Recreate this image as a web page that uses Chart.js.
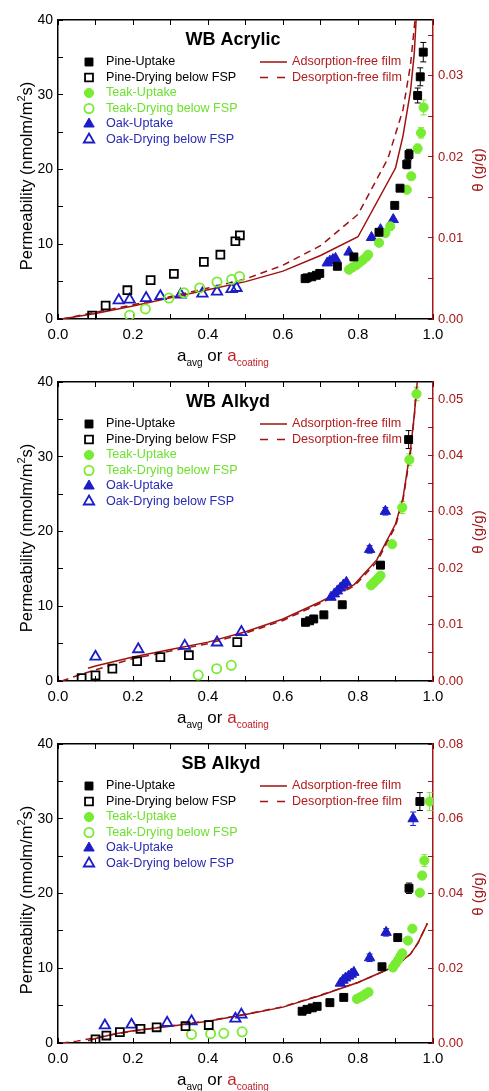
<!DOCTYPE html>
<html>
<head>
<meta charset="utf-8">
<script src="https://cdn.jsdelivr.net/npm/chart.js@4"></script>
<style>
body{margin:0;background:#fff;width:489px;height:1091px;overflow:hidden;font-family:"Liberation Sans",Arial,sans-serif}
.panel{position:absolute;left:0;width:489px}
.panel canvas{position:absolute;left:0;top:0}
.ytl,.y2tl{position:absolute;width:300px;height:20px;line-height:20px;text-align:center;transform:rotate(-90deg);white-space:nowrap}
.ytl{left:-129px;top:166px;color:#000;font-size:16.5px}
.y2tl{left:328px;top:160px;color:#a31818;font-size:15px}
.ytl sup{font-size:11px}
.xtl{position:absolute;left:177px;top:346px;line-height:20px;font-size:17px;white-space:nowrap;color:#000}
.xtl sub{font-size:10px;vertical-align:-5px}
.xtl .r{color:#c0222a}
</style>
</head>
<body>
<div class="panel" style="top:0;height:363px"><canvas id="c1" width="489" height="363"></canvas>
  <div class="ytl">Permeability (nmolm/m<sup>2</sup>s)</div><div class="y2tl">θ (g/g)</div>
  <div class="xtl">a<sub>avg</sub> or <span class="r">a<sub>coating</sub></span></div></div>
<div class="panel" style="top:362px;height:363px"><canvas id="c2" width="489" height="363"></canvas>
  <div class="ytl">Permeability (nmolm/m<sup>2</sup>s)</div><div class="y2tl">θ (g/g)</div>
  <div class="xtl">a<sub>avg</sub> or <span class="r">a<sub>coating</sub></span></div></div>
<div class="panel" style="top:724px;height:367px"><canvas id="c3" width="489" height="367"></canvas>
  <div class="ytl">Permeability (nmolm/m<sup>2</sup>s)</div><div class="y2tl">θ (g/g)</div>
  <div class="xtl">a<sub>avg</sub> or <span class="r">a<sub>coating</sub></span></div></div>
<script>
// [a, permeability, error bar]
// WB Acrylic
const acrPineUp=[[0.659,5.4],[0.664,5.5],[0.677,5.65],[0.689,5.85],[0.698,6.1],[0.745,7.05],[0.789,8.3],[0.856,11.6],[0.898,15.2],[0.912,17.5],[0.930,20.7,0.6],[0.936,22.0,0.7],[0.959,29.9,1.0],[0.966,32.4,1.2],[0.974,35.7,1.3]];
const acrPineDry=[[0.091,0.45],[0.127,1.8],[0.185,3.85],[0.247,5.2],[0.309,6.05],[0.389,7.65],[0.433,8.6],[0.473,10.4],[0.485,11.2]];
const acrTeakUp=[[0.776,6.6],[0.785,6.9],[0.795,7.2],[0.804,7.55],[0.813,7.9],[0.822,8.3],[0.827,8.6],[0.856,10.2],[0.873,11.5],[0.886,12.4],[0.930,17.3],[0.942,19.1],[0.959,22.8,0.6],[0.968,24.9,0.7],[0.975,28.3,1.0]];
const acrTeakDry=[[0.191,0.5],[0.233,1.35],[0.296,2.8],[0.336,3.5],[0.378,4.15],[0.424,4.95],[0.463,5.3],[0.484,5.7]];
const acrOakUp=[[0.718,7.5],[0.725,7.75],[0.733,7.95],[0.740,8.1],[0.776,8.95],[0.836,10.9],[0.860,11.95],[0.894,13.3]];
const acrOakDry=[[0.162,2.5],[0.191,2.6],[0.235,2.8],[0.273,3.05],[0.327,3.25],[0.385,3.4],[0.424,3.65],[0.463,4.0],[0.476,4.15]];
const acrAdsFree=[[0.01,0],[0.1,0.75],[0.2,1.75],[0.3,2.85],[0.4,3.9],[0.5,5.0],[0.6,6.4],[0.7,8.5],[0.8,11.0],[0.9,20.2],[0.92,24.5],[0.94,30.5],[0.95,35.5],[0.955,40]];
const acrDesFree=[[0.01,0],[0.1,0.9],[0.2,1.9],[0.3,3.0],[0.4,4.15],[0.5,5.35],[0.6,7.2],[0.7,9.8],[0.8,14.0],[0.88,21.5],[0.92,28.0],[0.94,34.0],[0.952,40]];
// WB Alkyd
const wbaPineUp=[[0.660,7.85],[0.671,8.05],[0.682,8.3],[0.709,8.85],[0.758,10.2],[0.860,15.5],[0.935,32.3,1.2]];
const wbaPineDry=[[0.063,0.4],[0.1,0.75],[0.145,1.65],[0.211,2.65],[0.273,3.2],[0.349,3.45],[0.478,5.2]];
const wbaTeakUp=[[0.835,12.8],[0.842,13.15],[0.849,13.5],[0.855,13.8],[0.860,14.1],[0.891,18.3],[0.918,23.2,0.8],[0.937,29.6,0.8],[0.956,38.4,0.9]];
const wbaTeakDry=[[0.374,0.8],[0.423,1.65],[0.462,2.1]];
const wbaOakUp=[[0.728,11.2],[0.737,11.65],[0.745,12.05],[0.753,12.45],[0.761,12.85],[0.769,13.2],[0.831,17.6,0.5],[0.873,22.7,0.5]];
const wbaOakDry=[[0.1,3.25],[0.214,4.25],[0.338,4.7],[0.424,5.15],[0.489,6.55]];
const wbaAdsFree=[[0.08,1.7],[0.1,2.0],[0.2,3.2],[0.3,4.2],[0.4,5.2],[0.5,6.6],[0.6,8.3],[0.7,10.6],[0.79,12.9],[0.85,16.2],[0.9,21.0],[0.92,24.5],[0.94,31.0],[0.95,35.5],[0.958,40]];
const wbaDesFree=[[0.01,0],[0.05,0.7],[0.1,1.5],[0.2,3.0],[0.3,4.0],[0.4,5.0],[0.5,6.4],[0.6,8.1],[0.7,10.4],[0.79,12.7],[0.85,15.9],[0.9,20.7],[0.92,24.2],[0.94,30.6],[0.95,35.3],[0.957,40]];
// SB Alkyd
const sbaPineUp=[[0.651,4.25],[0.664,4.5],[0.678,4.7],[0.691,4.9],[0.725,5.4],[0.762,6.1],[0.864,10.2],[0.906,14.1],[0.936,20.7,0.7],[0.965,32.3,1.2]];
const sbaPineDry=[[0.1,0.5],[0.129,1.0],[0.165,1.45],[0.22,1.9],[0.263,2.1],[0.34,2.25],[0.402,2.4]];
const sbaTeakUp=[[0.797,5.9],[0.805,6.1],[0.813,6.3],[0.820,6.55],[0.828,6.8],[0.893,10.1],[0.900,10.6],[0.907,11.1],[0.913,11.6],[0.918,12.0],[0.933,13.7],[0.945,15.3],[0.965,20.1],[0.971,22.4],[0.977,24.4,0.8],[0.991,32.3,1.2]];
const sbaTeakDry=[[0.356,1.15],[0.407,1.25],[0.442,1.3],[0.491,1.5]];
const sbaOakUp=[[0.753,8.0],[0.760,8.4],[0.767,8.7],[0.775,8.95],[0.782,9.2],[0.789,9.45],[0.831,11.4,0.5],[0.875,14.8,0.5],[0.947,30.0,0.9]];
const sbaOakDry=[[0.125,2.35],[0.196,2.45],[0.291,2.7],[0.356,2.9],[0.473,3.25],[0.489,3.8]];
const sbaAdsFree=[[0.08,0.3],[0.1,0.6],[0.15,1.2],[0.2,1.65],[0.3,2.25],[0.4,2.9],[0.5,3.8],[0.6,4.8],[0.7,6.35],[0.8,8.1],[0.9,10.3],[0.94,11.9],[0.96,13.4],[0.985,16.0]];
const sbaDesFree=[[0.01,0],[0.05,0.25],[0.1,0.7],[0.2,1.6],[0.3,2.3],[0.4,2.95],[0.5,3.85],[0.6,4.85],[0.7,6.4],[0.8,8.1],[0.9,10.3],[0.94,11.9],[0.96,13.4],[0.985,16.0]];

const seriesNames=['Pine-Uptake','Pine-Drying below FSP','Teak-Uptake','Teak-Drying below FSP','Oak-Uptake','Oak-Drying below FSP'];
const lineNames=['Adsorption-free film','Desorption-free film'];
const titles=['WB Acrylic','WB Alkyd','SB Alkyd'];
const thetaMax=[0.0369,0.053,0.08];
const thetaStep=[0.01,0.01,0.02];

const GREEN='#78ec32',BLUE='#1c1cc8',RED='#9e1212',AXRED='#a31818';
const FONT='"Liberation Sans", Arial, sans-serif';
Chart.defaults.font.family=FONT;
Chart.defaults.font.size=13;

function pts(a){return a.map(p=>({x:p[0],y:p[1],e:p[2]||0}));}
function scat(i,data,style,color,filled,txt){
  const r=style==='circle'?4.6:(style==='triangle'?6:5.6);
  return {label:seriesNames[i],data:pts(data),xAxisID:'x',yAxisID:'y',pointStyle:style,pointRadius:r,
    pointBorderWidth:filled?1:1.8,borderColor:color,backgroundColor:filled?color:'rgba(255,255,255,0)',
    pointBorderColor:color,pointBackgroundColor:filled?color:'rgba(255,255,255,0)',showLine:false,order:1,txtColor:txt};
}
function modelLine(i,data,dash){
  return {label:lineNames[i],data:pts(data),xAxisID:'x',yAxisID:'y',showLine:true,pointRadius:0,
    borderColor:RED,borderWidth:1.5,borderDash:dash,backgroundColor:RED,order:2,txtColor:'#b21c1c'};
}

// error bars under markers
const errBars={id:'errBars',beforeDatasetsDraw(chart){
  const ctx=chart.ctx,xs=chart.scales.x,ys=chart.scales.y;
  ctx.save();ctx.lineWidth=1;
  chart.data.datasets.forEach(ds=>{
    ds.data.forEach(p=>{
      if(!p.e)return;
      const px=xs.getPixelForValue(p.x),y1=ys.getPixelForValue(p.y+p.e),y2=ys.getPixelForValue(p.y-p.e);
      ctx.strokeStyle=ds.borderColor;ctx.beginPath();
      ctx.moveTo(px,y1);ctx.lineTo(px,y2);
      ctx.moveTo(px-3,y1);ctx.lineTo(px+3,y1);
      ctx.moveTo(px-3,y2);ctx.lineTo(px+3,y2);
      ctx.stroke();
    });
  });
  ctx.restore();
}};

function marker(ctx,ds,x,y){
  const r=ds.pointRadius;
  ctx.beginPath();
  if(ds.pointStyle==='rect'){const s=r*Math.SQRT1_2;ctx.rect(x-s,y-s,2*s,2*s);}
  else if(ds.pointStyle==='circle'){ctx.arc(x,y,r,0,Math.PI*2);}
  else{ctx.moveTo(x,y-r);ctx.lineTo(x+0.866*r,y+0.5*r);ctx.lineTo(x-0.866*r,y+0.5*r);ctx.closePath();}
  ctx.fillStyle=ds.pointBackgroundColor;ctx.fill();
  ctx.lineWidth=ds.pointBorderWidth;ctx.strokeStyle=ds.pointBorderColor;ctx.stroke();
}

// title and two-column legend inside the plot
const inPlot={id:'inPlot',afterDatasetsDraw(chart,args,opts){
  const ctx=chart.ctx,a=chart.chartArea;
  ctx.save();
  ctx.textBaseline='middle';
  ctx.font='bold 18px '+FONT;ctx.fillStyle='#000';ctx.textAlign='center';
  ctx.fillText(opts.title,opts.titleX,a.top+20);
  ctx.font='12.6px '+FONT;ctx.textAlign='left';
  let row=0,rowR=0;
  chart.data.datasets.forEach(ds=>{
    if(ds.showLine){
      const y=a.top+42+rowR*15.5;
      ctx.strokeStyle=ds.borderColor;ctx.lineWidth=1.5;
      ctx.setLineDash(ds.borderDash.length?[8,9]:[]);
      ctx.beginPath();ctx.moveTo(260,y);ctx.lineTo(287,y);ctx.stroke();
      ctx.setLineDash([]);
      ctx.fillStyle=ds.txtColor;ctx.fillText(ds.label,292,y);
      rowR++;
    }else{
      const y=a.top+42+row*15.5;
      marker(ctx,ds,89,y);
      ctx.fillStyle=ds.txtColor;ctx.fillText(ds.label,106,y);
      row++;
    }
  });
  ctx.restore();
}};

function isMajor(v,step){const k=v/step;return Math.abs(k-Math.round(k))<1e-6;}

function makePanel(id,k,pu,pd,tu,td,ou,od,ads,des,titleX){
  const datasets=[
    scat(0,pu,'rect','#000',true,'#000'),
    scat(1,pd,'rect','#000',false,'#000'),
    scat(2,tu,'circle',GREEN,true,'#6ee030'),
    scat(3,td,'circle',GREEN,false,'#6ee030'),
    scat(4,ou,'triangle',BLUE,true,'#2a2ab4'),
    scat(5,od,'triangle',BLUE,false,'#2a2ab4'),
    modelLine(0,ads,[]),
    modelLine(1,des,[7,5])
  ];
  const blackGrid={drawOnChartArea:false,tickLength:-5,color:'#000',lineWidth:1};
  new Chart(document.getElementById(id),{
    type:'scatter',
    data:{datasets},
    options:{
      responsive:false,animation:false,devicePixelRatio:1,events:[],
      layout:{padding:0},
      plugins:{legend:{display:false},tooltip:{enabled:false},inPlot:{title:titles[k],titleX}},
      scales:{
        x:{type:'linear',position:'bottom',min:0,max:1,
          afterFit:s=>{s.height=s.chart.height-319;},
          border:{color:'#000',width:1.5},grid:blackGrid,
          ticks:{stepSize:0.1,autoSkip:false,maxRotation:0,padding:12,color:'#000',font:{size:15},
            callback:v=>isMajor(v,0.2)?v.toFixed(1):''}},
        xt:{type:'linear',position:'top',min:0,max:1,
          afterFit:s=>{s.height=20;},
          border:{color:'#000',width:1.5},grid:blackGrid,
          ticks:{stepSize:0.1,autoSkip:false,display:false}},
        y:{type:'linear',position:'left',min:0,max:40,
          afterFit:s=>{s.width=58;},
          border:{color:'#000',width:1.5},grid:blackGrid,
          ticks:{stepSize:5,autoSkip:false,padding:10,color:'#000',font:{size:14},
            callback:v=>isMajor(v,10)?String(v):''}},
        y2:{type:'linear',position:'right',min:0,max:thetaMax[k],
          afterFit:s=>{s.width=56;},
          border:{color:AXRED,width:1.5},
          grid:{drawOnChartArea:false,tickLength:-5,color:AXRED,lineWidth:1},
          ticks:{stepSize:thetaStep[k]/2,includeBounds:false,autoSkip:false,padding:10,color:AXRED,
            callback:v=>isMajor(v,thetaStep[k])?v.toFixed(2):''}}
      }
    },
    plugins:[errBars,inPlot]
  });
}

makePanel('c1',0,acrPineUp,acrPineDry,acrTeakUp,acrTeakDry,acrOakUp,acrOakDry,acrAdsFree,acrDesFree,233);
makePanel('c2',1,wbaPineUp,wbaPineDry,wbaTeakUp,wbaTeakDry,wbaOakUp,wbaOakDry,wbaAdsFree,wbaDesFree,228);
makePanel('c3',2,sbaPineUp,sbaPineDry,sbaTeakUp,sbaTeakDry,sbaOakUp,sbaOakDry,sbaAdsFree,sbaDesFree,221);
</script>
</body>
</html>
